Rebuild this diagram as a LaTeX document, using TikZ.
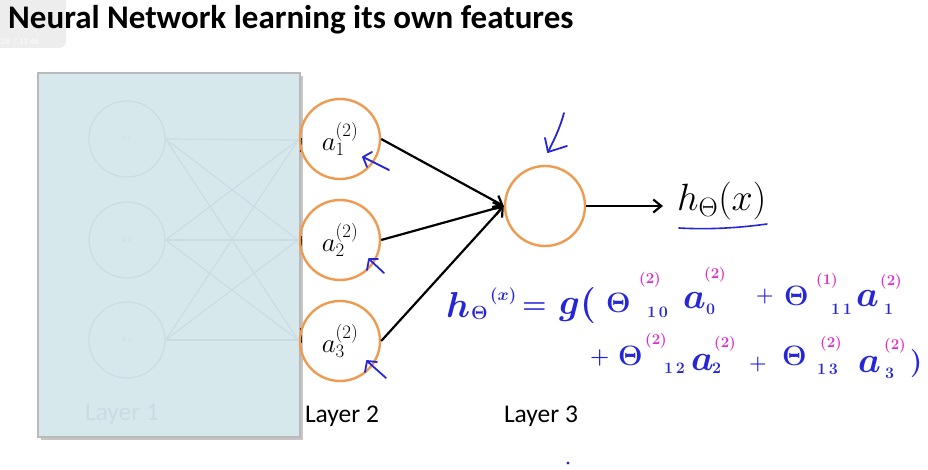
\RequirePackage{fix-cm}
\documentclass[tikz,border=0pt]{standalone}
\usepackage{fontspec}
\newfontfamily\calib{Carlito}
\usetikzlibrary{arrows.meta}
\definecolor{panel}{HTML}{D7E8ED}
\definecolor{ghost}{HTML}{C8DCE2}
\definecolor{orng}{HTML}{EE9B52}
\definecolor{pen}{HTML}{2626D8}
\definecolor{pink}{HTML}{E02CC8}
\definecolor{badge}{HTML}{EDEDED}
\tikzset{
  neuron/.style={circle, draw=orng, line width=2.4pt, minimum size=80pt, inner sep=0pt, font=\fontsize{27}{30}\selectfont},
  ghostn/.style={circle, draw=ghost, line width=1.2pt, minimum size=76pt, inner sep=0pt, text=ghost},
  conn/.style={line width=2.2pt, -{Straight Barb[length=8pt,width=13pt,line width=2.2pt]}},
  penline/.style={pen, line width=1.8pt, line cap=round, line join=round},
  layerlbl/.style={font=\calib\fontsize{25.5}{28}\selectfont, anchor=base},
  hand/.style={pen, anchor=base west, inner sep=0pt, font=\fontsize{28}{30}\selectfont\boldmath},
  hbig/.style={pen, anchor=base west, inner sep=0pt, font=\fontsize{36}{38}\selectfont\boldmath},
  hsub/.style={pen, anchor=base west, inner sep=0pt, font=\fontsize{16}{17}\selectfont\bfseries},
  hsup/.style={pink, anchor=base west, inner sep=0pt, font=\fontsize{15}{16}\selectfont\bfseries},
}
\begin{document}
\begin{tikzpicture}[x=1pt,y=-1pt]
\useasboundingbox (0,0) rectangle (928,470);
\fill[white] (0,0) rectangle (928,470);
% video overlay badge
\fill[badge, rounded corners=7pt] (-10,-10) rectangle (66,48);
\node[anchor=base west, inner sep=0pt, text=white, font=\sffamily\fontsize{8}{9}\selectfont] (badgetxt) at (1,45) {28 / 11:46};
% title
\node[anchor=base west, inner sep=0pt, font=\calib\bfseries\fontsize{33}{36}\selectfont] (title) at (8,29) {Neural Network learning its own features};
% faded panel
\fill[gray!45] (41,76) rectangle (303,440);
\filldraw[fill=panel, draw=gray!55, line width=1.5pt] (38,73) rectangle (300,437);
\node[ghostn] (x1) at (127,139) {$x_1$};
\node[ghostn] (x2) at (127,240) {$x_2$};
\node[ghostn] (x3) at (127,340) {$x_3$};
\coordinate (e1) at (298,140);
\coordinate (e2) at (298,240);
\coordinate (e3) at (298,340);
\foreach \i in {1,2,3}{\foreach \j in {1,2,3}{\draw[ghost, line width=1.2pt] (x\i.east) -- (e\j);}}
\node[layerlbl, text=ghost] (l1) at (122,420) {Layer 1};
% black ticks at panel edge
\draw[line width=2pt] (301,138) -- (301,152);
\draw[line width=2pt] (301,236) -- (301,246);
\draw[line width=2pt] (301,328) -- (301,343);
% layer 2 and 3
\node[neuron] (a1) at (340,139) {$a^{(2)}_1$};
\node[neuron] (a2) at (340,240) {$a^{(2)}_2$};
\node[neuron] (a3) at (340,341) {$a^{(2)}_3$};
\node[neuron] (o) at (545,206) {};
\draw[conn] (a1.east) -- (o.west);
\draw[conn] (a2.east) -- (o.west);
\draw[conn] (a3.east) -- (o.west);
\node[anchor=west, inner sep=0pt, font=\fontsize{38}{40}\selectfont] (h) at (677,201) {$h_\Theta(x)$};
\coordinate (hend) at (663,206);
\draw[conn] (o.east) -- (hend);
\node[layerlbl] (l2) at (342,422) {Layer 2};
\node[layerlbl] (l3) at (541,422) {Layer 3};
% handwriting
\draw[pen, line width=1.6pt, line cap=round] (679,228) .. controls (715,230) and (745,227) .. (767,224);
\draw[penline] (389,170) -- (363,157);
\draw[penline] (372,152) -- (363,157) -- (367,167);
\draw[penline] (384,273) -- (369,259);
\draw[penline] (367,270) -- (369,259) -- (378,259);
\draw[penline] (386,378) -- (367,361);
\draw[penline] (365,372) -- (367,361) -- (377,362);
\draw[penline] (564,113) .. controls (560,128) and (554,140) .. (548,152);
\draw[penline] (545,138) -- (548,152) -- (567,146);
\fill[pen] (568,463) circle (1.6pt);
% formula, line 1
\node[hbig] (hh) at (446,317) {$h$};
\node[pen, anchor=base west, inner sep=0pt, font=\fontsize{19}{20}\selectfont\boldmath] (hth) at (471,319) {$\Theta$};
\node[pen, anchor=base west, inner sep=0pt, font=\fontsize{17}{18}\selectfont\boldmath] (hx) at (490,300) {$(x)$};
\node[hand] (eq) at (522,313) {$=$};
\node[hbig] (g) at (559,314) {$g($};
\node[hand] (t1) at (606,312) {$\Theta$};
\node[hsup] (t1p) at (639,283) {(2)};
\node[hsub] (t1b) at (647,317) {1\,0};
\node[hbig] (a0) at (683,308) {$a$};
\node[hsub] (a0b) at (706,314) {0};
\node[hsup] (a0p) at (704,278) {(2)};
\node[pen, anchor=base west, inner sep=0pt, font=\fontsize{20}{20}\selectfont\boldmath] (p1) at (756,301) {$+$};
\node[hand] (t2) at (784,305) {$\Theta$};
\node[hsup] (t2p) at (816,284) {(1)};
\node[hsub] (t2b) at (831,314) {1\,1};
\node[hbig] (a1h) at (856,306) {$a$};
\node[hsub] (a1b) at (884,314) {1};
\node[hsup] (a1p) at (880,285) {(2)};
% formula, line 2
\node[pen, anchor=base west, inner sep=0pt, font=\fontsize{22}{22}\selectfont\boldmath] (p2) at (590,363) {$+$};
\node[hand] (t3) at (618,365) {$\Theta$};
\node[hsup] (t3p) at (645,344) {(2)};
\node[hsub] (t3b) at (664,373) {1\,2};
\node[hbig] (a2h) at (691,370) {$a$};
\node[hsub] (a2b) at (712,373) {2};
\node[hsup] (a2p) at (714,347) {(2)};
\node[pen, anchor=base west, inner sep=0pt, font=\fontsize{20}{20}\selectfont\boldmath] (p3) at (749,369) {$+$};
\node[hand] (t4) at (782,365) {$\Theta$};
\node[hsup] (t4p) at (820,347) {(2)};
\node[hsub] (t4b) at (817,374) {1\,3};
\node[hbig] (a3h) at (858,372) {$a$};
\node[hsub] (a3b) at (885,378) {3};
\node[hsup] (a3p) at (884,349) {(2)};
\node[hand] (rp) at (910,370) {$)$};
\end{tikzpicture}
\end{document}
